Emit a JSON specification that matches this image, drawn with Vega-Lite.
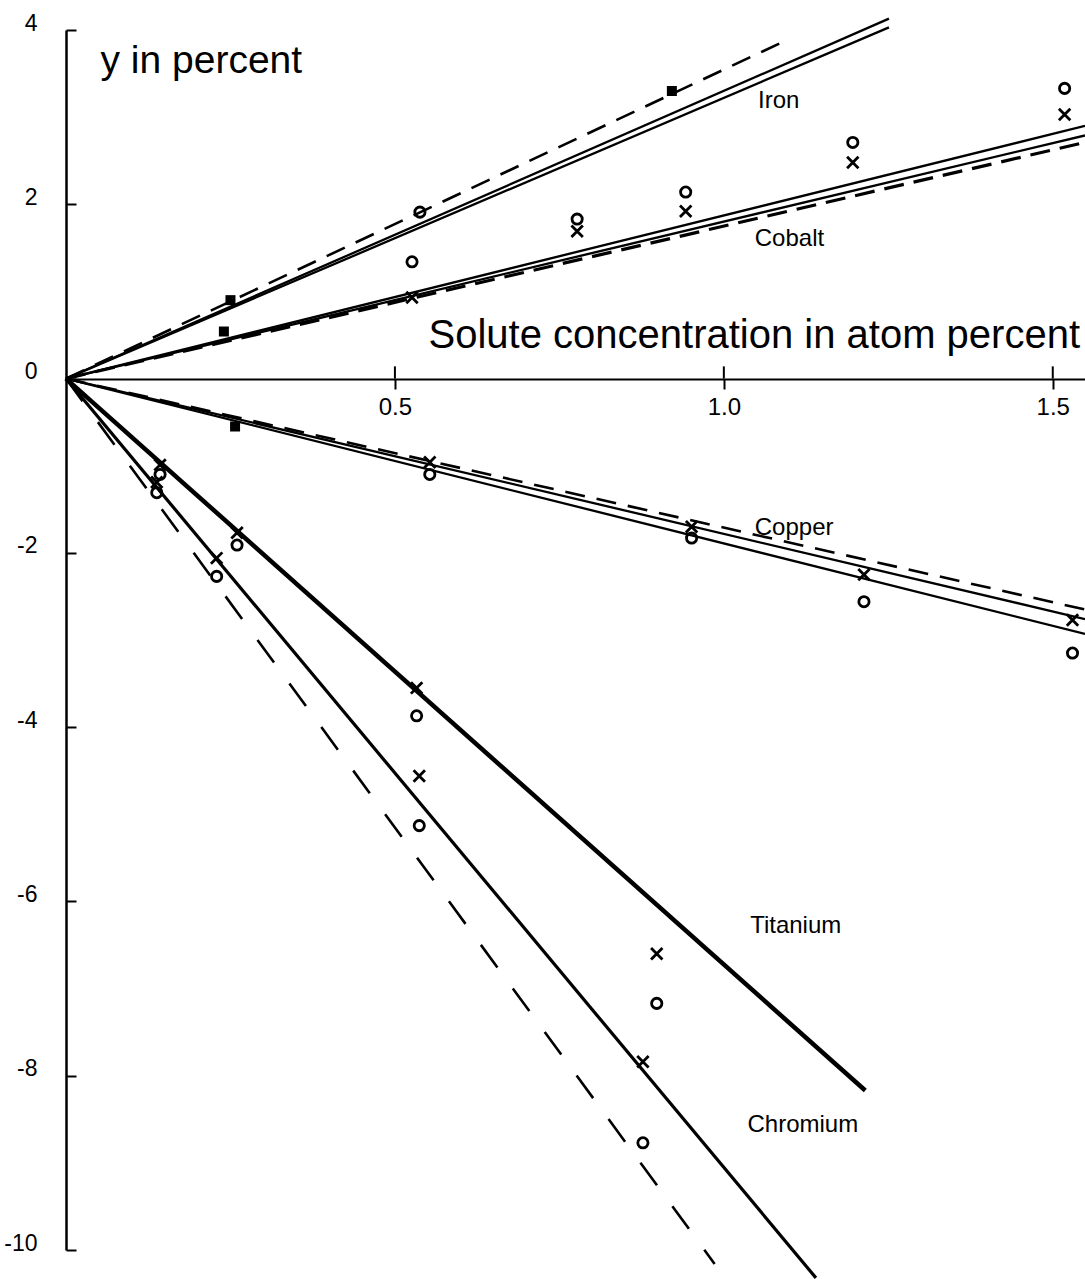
{
  "$schema": "https://vega.github.io/schema/vega-lite/v6.json",
  "width": 1019,
  "height": 1220,
  "autosize": {"type": "none"},
  "padding": {"left": 66, "top": 30, "right": 0, "bottom": 29},
  "background": "white",
  "config": {
    "view": {"stroke": null},
    "font": "Liberation Sans",
    "axis": {"domainColor": "black", "tickColor": "black", "labelColor": "black", "titleColor": "black", "grid": false, "labelFont": "Liberation Sans", "titleFont": "Liberation Sans", "titleFontWeight": "normal", "labelFlush": false, "labelOverlap": false, "labelBound": false}
  },
  "datasets": {
    "lines": [
      {"line": "Iron 1", "x": 0, "y": 0}, {"line": "Iron 1", "x": 1.251, "y": 4.13},
      {"line": "Iron 2", "x": 0, "y": 0}, {"line": "Iron 2", "x": 1.251, "y": 4.03},
      {"line": "Iron 3", "x": 0, "y": 0}, {"line": "Iron 3", "x": 1.1, "y": 3.9},
      {"line": "Cobalt 1", "x": 0, "y": 0}, {"line": "Cobalt 1", "x": 1.549, "y": 2.9},
      {"line": "Cobalt 2", "x": 0, "y": 0}, {"line": "Cobalt 2", "x": 1.549, "y": 2.79},
      {"line": "Cobalt 3", "x": 0, "y": 0}, {"line": "Cobalt 3", "x": 1.549, "y": 2.71},
      {"line": "Copper 1", "x": 0, "y": 0}, {"line": "Copper 1", "x": 1.549, "y": -2.76},
      {"line": "Copper 2", "x": 0, "y": 0}, {"line": "Copper 2", "x": 1.549, "y": -2.93},
      {"line": "Copper 3", "x": 0, "y": 0}, {"line": "Copper 3", "x": 1.549, "y": -2.65},
      {"line": "Titanium 1", "x": 0, "y": 0}, {"line": "Titanium 1", "x": 1.215, "y": -8.17},
      {"line": "Chromium 1", "x": 0, "y": 0}, {"line": "Chromium 1", "x": 1.14, "y": -10.32},
      {"line": "Chromium 3", "x": 0, "y": 0}, {"line": "Chromium 3", "x": 0.986, "y": -10.16}
    ],
    "points": [
      {"series": "Iron", "marker": "o", "x": 0.538, "y": 1.91},
      {"series": "Cobalt", "marker": "o", "x": 0.526, "y": 1.34},
      {"series": "Cobalt", "marker": "x", "x": 0.526, "y": 0.93},
      {"series": "Cobalt", "marker": "o", "x": 0.777, "y": 1.83},
      {"series": "Cobalt", "marker": "x", "x": 0.777, "y": 1.69},
      {"series": "Cobalt", "marker": "o", "x": 0.942, "y": 2.14},
      {"series": "Cobalt", "marker": "x", "x": 0.942, "y": 1.92},
      {"series": "Cobalt", "marker": "o", "x": 1.196, "y": 2.71},
      {"series": "Cobalt", "marker": "x", "x": 1.196, "y": 2.48},
      {"series": "Cobalt", "marker": "o", "x": 1.518, "y": 3.33},
      {"series": "Cobalt", "marker": "x", "x": 1.518, "y": 3.03},
      {"series": "Copper", "marker": "x", "x": 0.553, "y": -0.96},
      {"series": "Copper", "marker": "o", "x": 0.553, "y": -1.1},
      {"series": "Copper", "marker": "x", "x": 0.951, "y": -1.7},
      {"series": "Copper", "marker": "o", "x": 0.951, "y": -1.83},
      {"series": "Copper", "marker": "x", "x": 1.213, "y": -2.25},
      {"series": "Copper", "marker": "o", "x": 1.213, "y": -2.56},
      {"series": "Copper", "marker": "x", "x": 1.53, "y": -2.77},
      {"series": "Copper", "marker": "o", "x": 1.53, "y": -3.15},
      {"series": "Titanium", "marker": "x", "x": 0.143, "y": -0.99},
      {"series": "Titanium", "marker": "o", "x": 0.143, "y": -1.1},
      {"series": "Titanium", "marker": "x", "x": 0.26, "y": -1.77},
      {"series": "Titanium", "marker": "o", "x": 0.26, "y": -1.91},
      {"series": "Titanium", "marker": "x", "x": 0.533, "y": -3.55},
      {"series": "Titanium", "marker": "o", "x": 0.533, "y": -3.87},
      {"series": "Titanium", "marker": "x", "x": 0.898, "y": -6.6},
      {"series": "Titanium", "marker": "o", "x": 0.898, "y": -7.17},
      {"series": "Chromium", "marker": "x", "x": 0.138, "y": -1.19},
      {"series": "Chromium", "marker": "o", "x": 0.138, "y": -1.31},
      {"series": "Chromium", "marker": "x", "x": 0.229, "y": -2.06},
      {"series": "Chromium", "marker": "o", "x": 0.229, "y": -2.27},
      {"series": "Chromium", "marker": "x", "x": 0.537, "y": -4.56},
      {"series": "Chromium", "marker": "o", "x": 0.537, "y": -5.13},
      {"series": "Chromium", "marker": "x", "x": 0.877, "y": -7.84},
      {"series": "Chromium", "marker": "o", "x": 0.877, "y": -8.77}
    ],
    "squares": [
      {"series": "Iron", "x": 0.25, "y": 0.9},
      {"series": "Iron", "x": 0.921, "y": 3.3},
      {"series": "Cobalt", "x": 0.24, "y": 0.54},
      {"series": "Copper", "x": 0.257, "y": -0.55}
    ],
    "labels": [
      {"label": "Iron", "x": 1.052, "y": 3.1},
      {"label": "Cobalt", "x": 1.047, "y": 1.52},
      {"label": "Copper", "x": 1.047, "y": -1.8},
      {"label": "Titanium", "x": 1.04, "y": -6.36},
      {"label": "Chromium", "x": 1.036, "y": -8.65}
    ],
    "xticks": [{"x": 0.5}, {"x": 1.0}, {"x": 1.5}]
  },
  "layer": [
    {
      "data": {"name": "lines"},
      "transform": [{"filter": {"field": "line", "oneOf": ["Iron 1", "Iron 2", "Cobalt 1", "Cobalt 2", "Copper 1", "Copper 2"]}}],
      "mark": {"type": "line", "color": "black", "strokeWidth": 2.3},
      "encoding": {
        "x": {
          "field": "x", "type": "quantitative",
          "scale": {"domain": [0, 1.549], "nice": false, "zero": false},
          "axis": {
            "orient": "bottom", "offset": -871, "values": [0.5, 1.0, 1.5], "format": ".1f",
            "domainWidth": 2, "tickWidth": 2, "tickSize": 10, "labelPadding": 6, "labelFontSize": 24,
            "title": "Solute concentration in atom percent", "titleFontSize": 40, "titleAngle": 0,
            "titleX": 362, "titleY": -32, "titleAlign": "left", "titleBaseline": "alphabetic", "titleAnchor": null
          }
        },
        "y": {
          "field": "y", "type": "quantitative",
          "scale": {"domain": [-10, 4], "nice": false, "zero": false},
          "axis": {
            "orient": "left", "values": [-10, -8, -6, -4, -2, 0, 2, 4],
            "labelExpr": "datum.value < 0 ? '-' + abs(datum.value) : '' + datum.value",
            "domainWidth": 2.5, "tickWidth": 2, "tickSize": -10, "labelPadding": 39, "labelFontSize": 23, "labelOffset": -7,
            "title": "y in percent", "titleFontSize": 39, "titleAngle": 0,
            "titleX": 34, "titleY": 42, "titleAlign": "left", "titleBaseline": "alphabetic", "titleAnchor": null
          }
        },
        "detail": {"field": "line"}
      }
    },
    {
      "data": {"name": "lines"},
      "transform": [{"filter": {"field": "line", "oneOf": ["Iron 3", "Copper 3"]}}],
      "mark": {"type": "line", "color": "black", "strokeWidth": 2.6, "strokeDash": [20, 12]},
      "encoding": {
        "x": {"field": "x", "type": "quantitative"},
        "y": {"field": "y", "type": "quantitative"},
        "detail": {"field": "line"}
      }
    },
    {
      "data": {"name": "lines"},
      "transform": [{"filter": {"field": "line", "equal": "Cobalt 3"}}],
      "mark": {"type": "line", "color": "black", "strokeWidth": 3.2, "strokeDash": [20, 10]},
      "encoding": {
        "x": {"field": "x", "type": "quantitative"},
        "y": {"field": "y", "type": "quantitative"}
      }
    },
    {
      "data": {"name": "lines"},
      "transform": [{"filter": {"field": "line", "equal": "Titanium 1"}}],
      "mark": {"type": "line", "color": "black", "strokeWidth": 4.5},
      "encoding": {
        "x": {"field": "x", "type": "quantitative"},
        "y": {"field": "y", "type": "quantitative"}
      }
    },
    {
      "data": {"name": "lines"},
      "transform": [{"filter": {"field": "line", "equal": "Chromium 1"}}],
      "mark": {"type": "line", "color": "black", "strokeWidth": 3.2},
      "encoding": {
        "x": {"field": "x", "type": "quantitative"},
        "y": {"field": "y", "type": "quantitative"}
      }
    },
    {
      "data": {"name": "lines"},
      "transform": [{"filter": {"field": "line", "equal": "Chromium 3"}}],
      "mark": {"type": "line", "color": "black", "strokeWidth": 2.6, "strokeDash": [28, 26]},
      "encoding": {
        "x": {"field": "x", "type": "quantitative"},
        "y": {"field": "y", "type": "quantitative"}
      }
    },
    {
      "data": {"name": "xticks"},
      "mark": {"type": "rule", "color": "black", "strokeWidth": 2},
      "encoding": {
        "x": {"field": "x", "type": "quantitative"},
        "y": {"datum": 0},
        "y2": {"datum": 0.14}
      }
    },
    {
      "data": {"name": "points"},
      "mark": {"type": "point", "filled": false, "color": "black", "strokeWidth": 2.8, "opacity": 1},
      "encoding": {
        "x": {"field": "x", "type": "quantitative"},
        "y": {"field": "y", "type": "quantitative"},
        "shape": {"field": "marker", "type": "nominal", "legend": null, "scale": {"domain": ["o", "x"], "range": ["circle", "M-1,-1L1,1M1,-1L-1,1"]}},
        "size": {"field": "marker", "type": "nominal", "legend": null, "scale": {"domain": ["o", "x"], "range": [105, 130]}}
      }
    },
    {
      "data": {"name": "squares"},
      "mark": {"type": "square", "filled": true, "color": "black", "size": 100, "opacity": 1},
      "encoding": {
        "x": {"field": "x", "type": "quantitative"},
        "y": {"field": "y", "type": "quantitative"}
      }
    },
    {
      "data": {"name": "labels"},
      "mark": {"type": "text", "align": "left", "baseline": "alphabetic", "fontSize": 24, "color": "black", "font": "Liberation Sans"},
      "encoding": {
        "x": {"field": "x", "type": "quantitative"},
        "y": {"field": "y", "type": "quantitative"},
        "text": {"field": "label"}
      }
    }
  ]
}
